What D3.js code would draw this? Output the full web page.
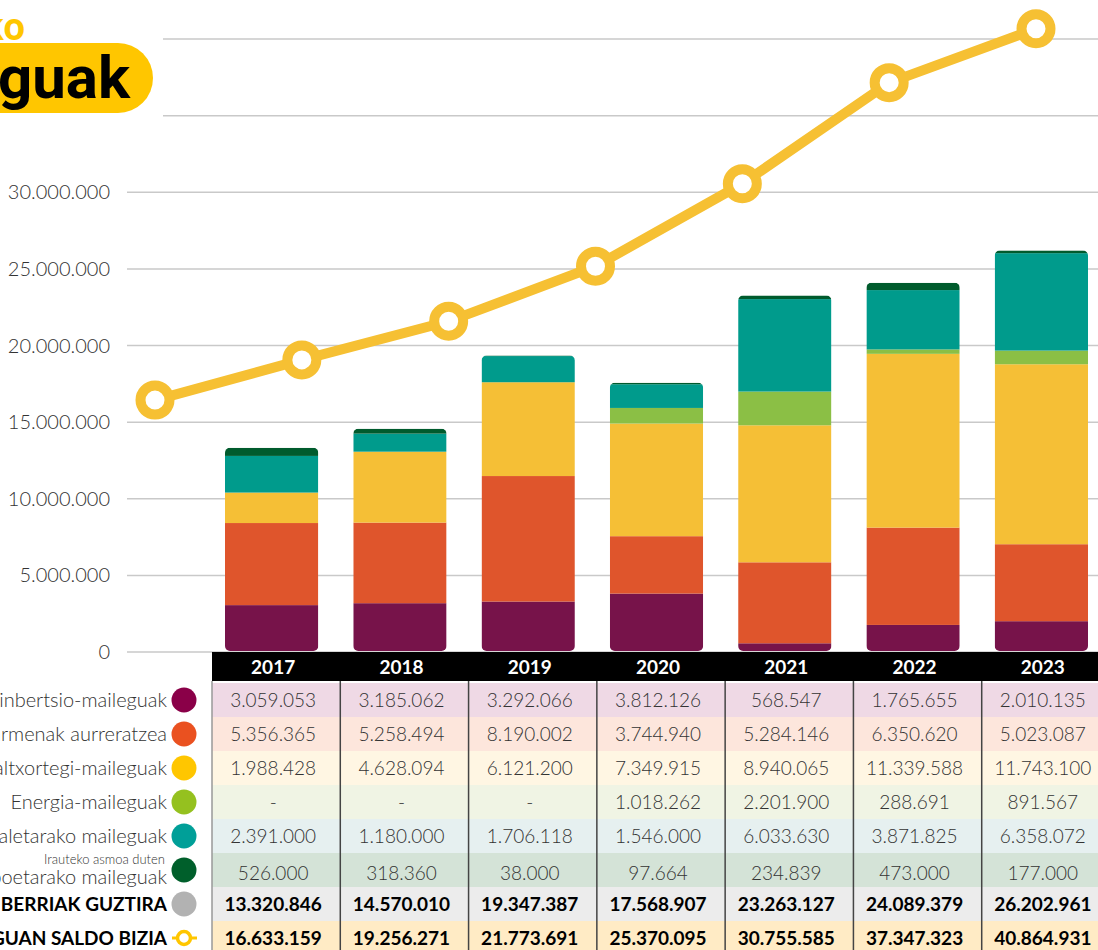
<!DOCTYPE html>
<html lang="eu">
<head>
<meta charset="UTF-8">
<title>Maileguak</title>
<script src="https://d3js.org/d3.v7.min.js"></script>
<style>
  body { margin: 0; background: #fff; }
  svg { display: block; }
  .lbl { font-family: "Source Sans Pro", Lato, "Noto Sans", sans-serif; font-weight: 300; fill: #333; }
</style>
</head>
<body>
<div id="chart"></div>
<script>
const years = ['2017', '2018', '2019', '2020', '2021', '2022', '2023'];

const inbertsio = [3059053, 3185062, 3292066, 3812126, 568547, 1765655, 2010135];
const hitzarmenak = [5356365, 5258494, 8190002, 3744940, 5284146, 6350620, 5023087];
const altxortegi = [1988428, 4628094, 6121200, 7349915, 8940065, 11339588, 11743100];
const energia = [null, null, null, 1018262, 2201900, 288691, 891567];
const kapitala = [2391000, 1180000, 1706118, 1546000, 6033630, 3871825, 6358072];
const erreleboa = [526000, 318360, 38000, 97664, 234839, 473000, 177000];
const guztira = [13320846, 14570010, 19347387, 17568907, 23263127, 24089379, 26202961];
const saldoBizia = [16633159, 19256271, 21773691, 25370095, 30755585, 37347323, 40864931];

const yTicks = [0, 5000000, 10000000, 15000000, 20000000, 25000000, 30000000, 35000000, 40000000];
const yLabelled = [0, 5000000, 10000000, 15000000, 20000000, 25000000, 30000000];

// series, bottom to top
const series = [
  {key: 'inbertsio', label: 'Ekoizpen-inbertsio-maileguak', values: inbertsio, bar: '#77134a', dot: '#8a0048', bg: '#efd9e5'},
  {key: 'hitzarmenak', label: 'Administrazio-hitzarmenak aurreratzea', values: hitzarmenak, bar: '#df552c', dot: '#ea5120', bg: '#fde6dc'},
  {key: 'altxortegi', label: 'Zirkulatzaile eta altxortegi-maileguak', values: altxortegi, bar: '#f5bf36', dot: '#ffc600', bg: '#fff6e3'},
  {key: 'energia', label: 'Energia-maileguak', values: energia, bar: '#8bbf45', dot: '#95c11f', bg: '#f0f4e4'},
  {key: 'kapitala', label: 'Enpresa-kapitaletarako maileguak', values: kapitala, bar: '#009b8c', dot: '#009f98', bg: '#e6f0f0'},
  {key: 'erreleboa', label: 'Enpresa-erreleboetarako maileguak', small: 'Irauteko asmoa duten', values: erreleboa, bar: '#005b2d', dot: '#005f2b', bg: '#d4e3d7'}
];

const W = 1098, H = 950;
const svg = d3.select('#chart').append('svg').attr('width', W).attr('height', H);

const fmt = d3.formatLocale({decimal: ',', thousands: '.', grouping: [3], currency: ['', '']}).format(',d');

const y = d3.scaleLinear().domain([0, 40000000]).range([652, 39]);
const col = d3.scaleBand().domain(years).range([212, 1110]);
const xLine = d3.scalePoint().domain(years).range([155, 1036]);

// gridlines
svg.append('g').selectAll('line').data(yTicks).join('line')
  .attr('x1', d => d >= 35000000 ? 163 : 127)
  .attr('x2', W)
  .attr('y1', d => y(d)).attr('y2', d => y(d))
  .attr('stroke', '#c9c9c9').attr('stroke-width', 1.5);

// y labels
svg.append('g').selectAll('text').data(yLabelled).join('text')
  .attr('class', 'lbl')
  .attr('x', 110).attr('y', d => y(d))
  .attr('dy', '0.35em')
  .attr('text-anchor', 'end')
  .style('font-size', '20px')
  .text(d => fmt(d));

// stacked bars
const table = years.map((yr, i) => {
  const row = {year: yr};
  series.forEach(s => { row[s.key] = s.values[i] || 0; });
  return row;
});
const stacked = d3.stack().keys(series.map(s => s.key))(table);

const defs = svg.append('defs');
const barX = d => col(d) + 13;
const barW = col.bandwidth() - 35;
years.forEach((yr, i) => {
  const top = stacked[stacked.length - 1][i][1];
  defs.append('clipPath').attr('id', 'clip' + yr)
    .append('rect')
    .attr('x', barX(yr)).attr('width', barW)
    .attr('y', y(top)).attr('height', y(0) - y(top) - 1)
    .attr('rx', 5);
});

const bars = svg.append('g');
stacked.forEach((layer, li) => {
  bars.append('g').attr('fill', series[li].bar)
    .selectAll('rect').data(layer).join('rect')
    .attr('clip-path', d => 'url(#clip' + d.data.year + ')')
    .attr('x', d => barX(d.data.year))
    .attr('width', barW)
    .attr('y', d => y(d[1]))
    .attr('height', d => y(d[0]) - y(d[1]));
});

// saldo bizia line
const line = d3.line().x((d, i) => xLine(years[i])).y(d => y(d) + 3);
svg.append('path').datum(saldoBizia)
  .attr('d', line)
  .attr('fill', 'none').attr('stroke', '#f6c033').attr('stroke-width', 10);
svg.append('g').selectAll('circle').data(saldoBizia).join('circle')
  .attr('cx', (d, i) => xLine(years[i])).attr('cy', d => y(d) + 3)
  .attr('r', 14.5)
  .attr('fill', '#fff').attr('stroke', '#f6c033').attr('stroke-width', 10);

// title
svg.append('rect').attr('x', -60).attr('y', 43).attr('width', 213).attr('height', 70).attr('rx', 35).attr('fill', '#ffc600');
svg.append('text').attr('x', 130).attr('y', 98).attr('text-anchor', 'end')
  .style('font-family', 'Roboto, Inter, sans-serif').style('font-weight', 700).style('font-size', '60px')
  .attr('fill', '#000').text('Maileguak');
svg.append('text').attr('x', 25).attr('y', 40).attr('text-anchor', 'end')
  .style('font-family', 'Roboto, Inter, sans-serif').style('font-weight', 700).style('font-size', '38px')
  .attr('fill', '#ffc600').text('Elkargiko');

// table
const rowTop = 683, rowH = 34;
const tbl = svg.append('g');
tbl.append('rect').attr('x', 212).attr('y', 652).attr('width', W - 212).attr('height', 29).attr('fill', '#000');
tbl.selectAll('text.yr').data(years).join('text')
  .attr('class', 'yr')
  .attr('x', d => col(d) + col.bandwidth() / 2 - 3).attr('y', 667).attr('dy', '0.35em')
  .attr('text-anchor', 'middle')
  .style('font-family', '"Source Sans Pro", Lato, "Noto Sans", sans-serif').style('font-weight', 700).style('font-size', '19px')
  .attr('fill', '#fff').text(d => d);

const rows = series.map(s => ({label: s.label, small: s.small, values: s.values, bg: s.bg, dot: s.dot, bold: false}))
  .concat([
    {label: 'MAILEGU BERRIAK GUZTIRA', values: guztira, bg: '#ececec', dot: '#b2b2b2', bold: true},
    {label: 'MAILEGUAN SALDO BIZIA', values: saldoBizia, bg: '#ffebc5', dot: null, bold: true}
  ]);

rows.forEach((r, ri) => {
  const top = rowTop + ri * rowH;
  const cy = top + rowH / 2 + (r.small ? 3 : 0);
  tbl.append('rect').attr('x', 212).attr('y', top).attr('width', W - 212).attr('height', rowH).attr('fill', r.bg);
  tbl.append('g').selectAll('text').data(r.values).join('text')
    .attr('class', 'lbl')
    .attr('x', (d, i) => col(years[i]) + col.bandwidth() / 2 - 3).attr('y', cy).attr('dy', '0.35em')
    .attr('text-anchor', 'middle')
    .style('font-size', '19px')
    .style('font-weight', r.bold ? 700 : 300)
    .style('fill', r.bold ? '#000' : '#333')
    .text(d => d == null ? '-' : fmt(d));

  // left legend
  const ly = r.small ? top + 24 : cy;
  tbl.append('text').attr('class', 'lbl')
    .attr('x', 167).attr('y', ly).attr('dy', '0.35em').attr('text-anchor', 'end')
    .style('font-size', r.bold ? '19px' : '20px')
    .style('font-weight', r.bold ? 700 : 300)
    .style('fill', r.bold ? '#000' : '#333')
    .text(r.label);
  if (r.small) {
    tbl.append('text').attr('class', 'lbl')
      .attr('x', 165).attr('y', top + 6).attr('dy', '0.35em').attr('text-anchor', 'end')
      .style('font-size', '13px').text(r.small);
  }
  if (r.dot) {
    tbl.append('circle').attr('cx', 184).attr('cy', top + rowH / 2).attr('r', 12.5).attr('fill', r.dot);
  } else {
    tbl.append('line').attr('x1', 172).attr('x2', 197).attr('y1', top + rowH / 2).attr('y2', top + rowH / 2)
      .attr('stroke', '#ffc600').attr('stroke-width', 3);
    tbl.append('circle').attr('cx', 184).attr('cy', top + rowH / 2).attr('r', 6.5)
      .attr('fill', '#fff').attr('stroke', '#ffc600').attr('stroke-width', 3.5);
  }
});

// column dividers
tbl.append('line').attr('x1', 212).attr('x2', 212).attr('y1', 681).attr('y2', H).attr('stroke', '#999').attr('stroke-width', 1.5);
tbl.selectAll('line.div').data(years.slice(1)).join('line')
  .attr('class', 'div')
  .attr('x1', d => col(d)).attr('x2', d => col(d))
  .attr('y1', 681).attr('y2', H)
  .attr('stroke', '#444').attr('stroke-width', 1.5);
</script>
</body>
</html>
